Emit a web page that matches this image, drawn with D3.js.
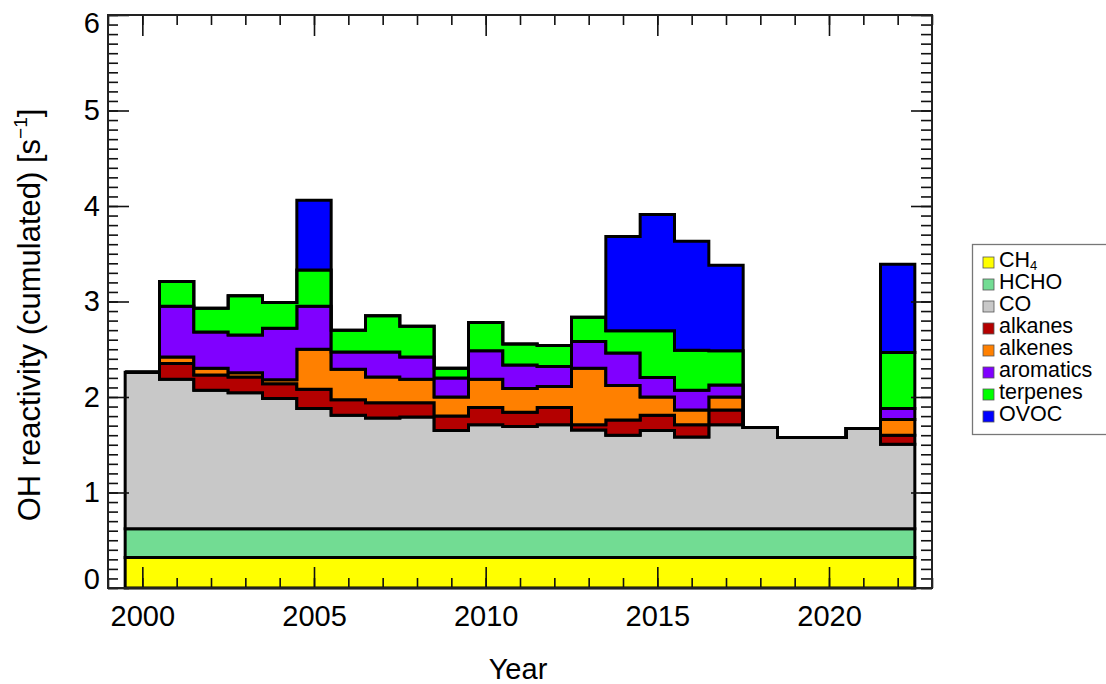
<!DOCTYPE html>
<html>
<head>
<meta charset="utf-8">
<script src="https://cdn.jsdelivr.net/npm/d3@7"></script>
<style>
  html, body { margin: 0; padding: 0; background: #fff; }
  svg { display: block; font-family: "Liberation Sans", Arial, Helvetica, sans-serif; }
</style>
</head>
<body>
<svg id="chart" width="1106" height="684"></svg>
<script>
// ---- data (OH reactivity contributions, s^-1) ----
const years    = [2000,2001,2002,2003,2004,2005,2006,2007,2008,2009,2010,2011,2012,2013,2014,2015,2016,2017,2018,2019,2020,2021,2022];
const ch4      = [0.32,0.32,0.32,0.32,0.32,0.32,0.32,0.32,0.32,0.32,0.32,0.32,0.32,0.32,0.32,0.32,0.32,0.32,0.32,0.32,0.32,0.32,0.32];
const hcho     = [0.30,0.30,0.30,0.30,0.30,0.30,0.30,0.30,0.30,0.30,0.30,0.30,0.30,0.30,0.30,0.30,0.30,0.30,0.30,0.30,0.30,0.30,0.30];
const co       = [1.64,1.565,1.45,1.425,1.365,1.26,1.19,1.16,1.17,1.03,1.09,1.07,1.09,1.035,0.98,1.03,0.96,1.09,1.06,0.955,0.955,1.05,0.885];
const alkanes  = [0,0.165,0.16,0.165,0.155,0.20,0.16,0.16,0.15,0.15,0.18,0.15,0.18,0.055,0.16,0.16,0.13,0.155,0,0,0,0,0.095];
const alkenes  = [0,0.07,0.07,0.045,0.04,0.42,0.32,0.27,0.245,0.20,0.295,0.25,0.22,0.59,0.36,0.19,0.155,0.135,0,0,0,0,0.165];
const aromatics= [0,0.53,0.38,0.395,0.54,0.45,0.18,0.26,0.235,0.20,0.30,0.245,0.21,0.28,0.34,0.205,0.205,0.125,0,0,0,0,0.115];
const terpenes = [0,0.26,0.25,0.41,0.27,0.38,0.23,0.38,0.32,0.10,0.295,0.22,0.22,0.255,0.235,0.49,0.42,0.36,0,0,0,0,0.585];
const ovoc     = [0,0,0,0,0,0.73,0,0,0,0,0,0,0,0,0.985,1.215,1.14,0.895,0,0,0,0,0.925];

const seriesKeys  = ["CH4","HCHO","CO","alkanes","alkenes","aromatics","terpenes","OVOC"];
const seriesVals  = [ch4, hcho, co, alkanes, alkenes, aromatics, terpenes, ovoc];
const seriesColor = ["#ffff00","#72dc93","#c8c8c8","#b40000","#ff8000","#8000ff","#00ff00","#0000ff"];

const xTicks = [2000, 2005, 2010, 2015, 2020];
const yTicks = [0,1,2,3,4,5,6];

// ---- layout ----
const svg = d3.select("#chart");
const L = 108, R = 932, T = 15, B = 588;
const FS = 29;

const x = d3.scaleLinear().domain([1999, 2023]).range([L, R]);
const y = d3.scaleLinear().domain([0, 6]).range([B, T]);

// ---- stack ----
const table = years.map((yr, i) => {
  const o = { year: yr };
  seriesKeys.forEach((k, j) => o[k] = seriesVals[j][i]);
  return o;
});
const stacked = d3.stack().keys(seriesKeys)(table);

const pts = [];
years.forEach((yr, i) => { pts.push({ xv: yr - 0.5, i }); pts.push({ xv: yr + 0.5, i }); });

const gData = svg.append("g");
stacked.forEach((layer, j) => {
  const area = d3.area()
    .x(p => x(p.xv))
    .y0(p => y(layer[p.i][0]))
    .y1(p => y(layer[p.i][1]));
  gData.append("path")
    .attr("d", area(pts) + "Z")
    .attr("fill", seriesColor[j])
    .attr("stroke", "#000")
    .attr("stroke-width", 3)
    .attr("stroke-linejoin", "miter");
});

// ---- axes (ticks inward on all 4 sides) ----
const minorX = d3.range(1999, 2024, 1);
const minorY = d3.range(0, 60.5, 1).map(v => v / 10);

function axisStyle(g) {
  g.select(".domain").remove();
  g.selectAll(".tick line").attr("stroke", "#111").attr("stroke-width", 1.6);
}

svg.append("g").attr("transform", `translate(0,${B})`)
  .call(d3.axisBottom(x).tickValues(minorX).tickSize(-10).tickFormat(""))
  .call(axisStyle).selectAll("text").remove();
const gxb = svg.append("g").attr("transform", `translate(0,${B})`)
  .call(d3.axisBottom(x).tickValues(xTicks).tickSize(-21).tickPadding(17).tickFormat(d3.format("d")))
  .call(axisStyle);
gxb.selectAll("text").attr("font-size", FS).attr("fill", "#000").attr("font-family", "Liberation Sans, Arial, sans-serif");

svg.append("g").attr("transform", `translate(0,${T})`)
  .call(d3.axisTop(x).tickValues(minorX).tickSize(-10).tickFormat(""))
  .call(axisStyle);
svg.append("g").attr("transform", `translate(0,${T})`)
  .call(d3.axisTop(x).tickValues(xTicks).tickSize(-21).tickFormat(""))
  .call(axisStyle);

svg.append("g").attr("transform", `translate(${L},0)`)
  .call(d3.axisLeft(y).tickValues(minorY).tickSize(-10).tickFormat(""))
  .call(axisStyle);
const gyl = svg.append("g").attr("transform", `translate(${L},0)`)
  .call(d3.axisLeft(y).tickValues(yTicks).tickSize(-21).tickPadding(8).tickFormat(d3.format("d")))
  .call(axisStyle);
gyl.selectAll("text").attr("font-size", FS).attr("fill", "#000").attr("font-family", "Liberation Sans, Arial, sans-serif")
  .attr("dy", d => d === 6 ? "0.62em" : d === 0 ? "0.0em" : "0.32em");

svg.append("g").attr("transform", `translate(${R},0)`)
  .call(d3.axisRight(y).tickValues(minorY).tickSize(-11).tickFormat(""))
  .call(axisStyle);
svg.append("g").attr("transform", `translate(${R},0)`)
  .call(d3.axisRight(y).tickValues(yTicks).tickSize(-21).tickFormat(""))
  .call(axisStyle);

// frame
svg.append("rect").attr("x", L).attr("y", T).attr("width", R - L).attr("height", B - T)
  .attr("fill", "none").attr("stroke", "#222").attr("stroke-width", 2);

// ---- axis titles ----
svg.append("text").attr("x", (L + R) / 2 - 2).attr("y", 679).attr("text-anchor", "middle")
  .attr("font-size", FS).text("Year");

const yt = svg.append("text").attr("transform", `translate(40,315) rotate(-90)`)
  .attr("text-anchor", "middle").attr("font-size", 31);
yt.append("tspan").text("OH reactivity (cumulated) [s");
yt.append("tspan").attr("font-size", 19).attr("dy", -13).text("\u22121");
yt.append("tspan").attr("dy", 13).text("]");

// ---- legend ----
const lg = svg.append("g");
lg.append("rect").attr("x", 972.5).attr("y", 244.5).attr("width", 140).attr("height", 190)
  .attr("fill", "#fff").attr("stroke", "#777").attr("stroke-width", 1.3);
const labels = ["CH", "HCHO", "CO", "alkanes", "alkenes", "aromatics", "terpenes", "OVOC"];
labels.forEach((lab, j) => {
  const by = 267 + j * 22;
  lg.append("rect").attr("x", 983).attr("y", by - 10).attr("width", 11).attr("height", 11)
    .attr("fill", seriesColor[j]).attr("stroke", "#555").attr("stroke-width", 0.8);
  const t = lg.append("text").attr("x", 999).attr("y", by).attr("font-size", 21.5).text(lab);
  if (j === 0) t.append("tspan").attr("font-size", 13).attr("dy", 3).text("4");
});
</script>
</body>
</html>
